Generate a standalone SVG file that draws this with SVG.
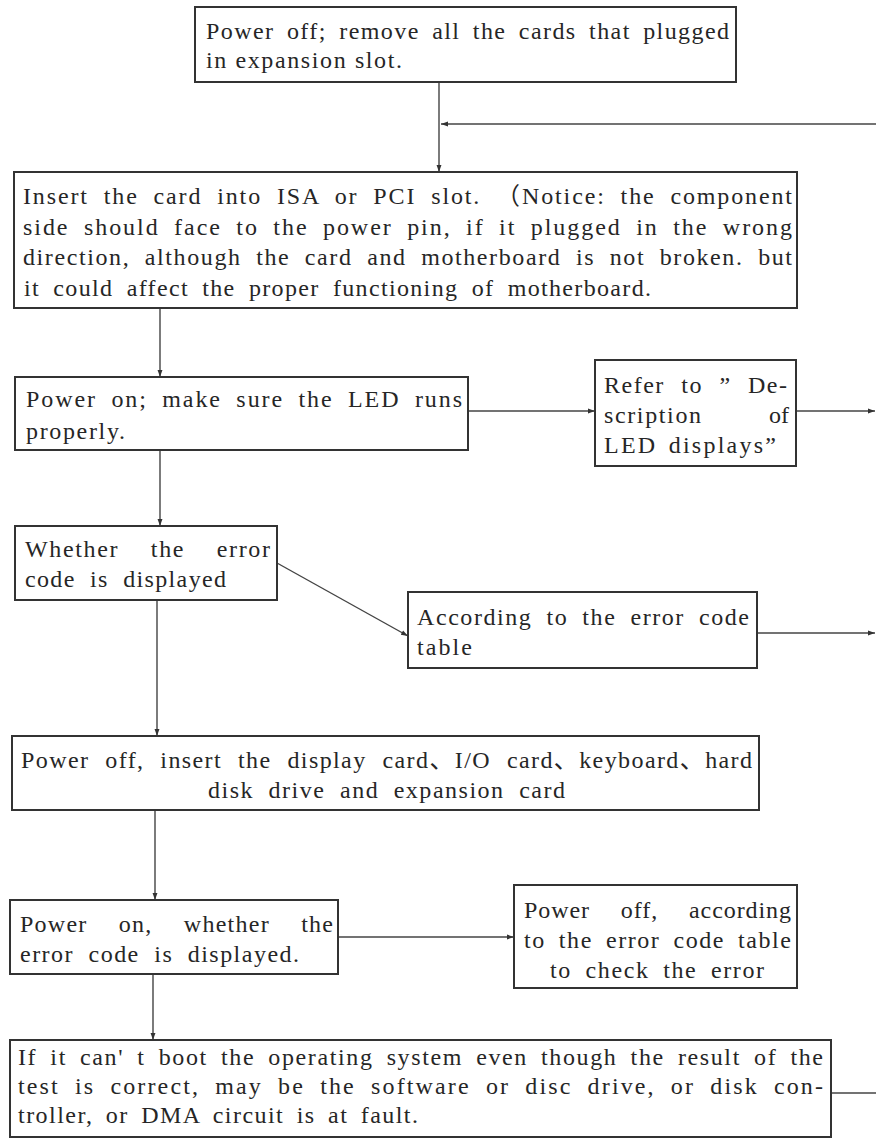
<svg xmlns="http://www.w3.org/2000/svg" width="876" height="1143" viewBox="0 0 876 1143">
<style>
rect.box{fill:none;stroke:#333;stroke-width:2}
text{font-family:"Liberation Serif","Times New Roman","Noto Sans CJK SC",serif;font-size:24px;fill:#262626}
.c line{stroke:#444;stroke-width:1.4;fill:none}
</style>
<defs>
<marker id="ah" viewBox="0 0 10 10" refX="10" refY="5" markerWidth="7" markerHeight="7" markerUnits="userSpaceOnUse" orient="auto">
<path d="M0,1.5 L10,5 L0,8.5 Z" fill="#333"/>
</marker>
</defs>
<rect width="876" height="1143" fill="#fff"/>
<g class="c" id="connectors">
<line x1="439" y1="82" x2="439" y2="172" marker-end="url(#ah)"/>
<line x1="876" y1="124" x2="441" y2="124" marker-end="url(#ah)"/>
<line x1="160" y1="308" x2="160" y2="377" marker-end="url(#ah)"/>
<line x1="468" y1="411" x2="595" y2="411" marker-end="url(#ah)"/>
<line x1="796" y1="411" x2="875" y2="411" marker-end="url(#ah)"/>
<line x1="160" y1="450" x2="160" y2="526" marker-end="url(#ah)"/>
<line x1="277" y1="563" x2="408" y2="636" marker-end="url(#ah)"/>
<line x1="757" y1="633" x2="875" y2="633" marker-end="url(#ah)"/>
<line x1="157" y1="600" x2="157" y2="736" marker-end="url(#ah)"/>
<line x1="155" y1="810" x2="155" y2="900" marker-end="url(#ah)"/>
<line x1="338" y1="937" x2="514" y2="937" marker-end="url(#ah)"/>
<line x1="153" y1="974" x2="153" y2="1040" marker-end="url(#ah)"/>
<line x1="831" y1="1093" x2="876" y2="1093"/>
</g>
<g id="n1">
<rect class="box" x="195" y="7" width="541" height="75"/>
<text x="206" y="39" style="word-spacing:5px" textLength="523" lengthAdjust="spacing">Power off; remove all the cards that plugged</text>
<text x="206" y="68" textLength="196" lengthAdjust="spacing">in expansion slot.</text>
</g>
<g id="n2">
<rect class="box" x="14" y="172" width="783" height="136"/>
<text x="23" y="204" style="word-spacing:7px" textLength="769" lengthAdjust="spacing">Insert the card into ISA or PCI slot. （Notice: the component</text>
<text x="23" y="235" style="word-spacing:6.5px" textLength="769" lengthAdjust="spacing">side should face to the power pin, if it plugged in the wrong</text>
<text x="23" y="265" style="word-spacing:7px" textLength="769" lengthAdjust="spacing">direction, although the card and motherboard is not broken. but</text>
<text x="24" y="296" style="word-spacing:6px" textLength="627" lengthAdjust="spacing">it could affect the proper functioning of motherboard.</text>
</g>
<g id="n3">
<rect class="box" x="15" y="377" width="453" height="73"/>
<text x="26" y="407" style="word-spacing:6.5px" textLength="436" lengthAdjust="spacing">Power on; make sure the LED runs</text>
<text x="26" y="439" textLength="99" lengthAdjust="spacing">properly.</text>
</g>
<g id="n4">
<rect class="box" x="595" y="360" width="201" height="106"/>
<text x="604" y="393" style="word-spacing:9px" textLength="183" lengthAdjust="spacing">Refer to ” De-</text>
<text x="604" y="423" textLength="97" lengthAdjust="spacing">scription</text>
<text x="789" y="423" text-anchor="end">of</text>
<text x="604" y="453" style="word-spacing:3px" textLength="172" lengthAdjust="spacing">LED displays”</text>
</g>
<g id="n5">
<rect class="box" x="15" y="526" width="262" height="74"/>
<text x="25" y="557" style="word-spacing:24px" textLength="245" lengthAdjust="spacing">Whether the error</text>
<text x="25" y="587" style="word-spacing:7px" textLength="201" lengthAdjust="spacing">code is displayed</text>
</g>
<g id="n6">
<rect class="box" x="408" y="592" width="349" height="76"/>
<text x="417" y="625" style="word-spacing:6.5px" textLength="332" lengthAdjust="spacing">According to the error code</text>
<text x="417" y="655" textLength="55" lengthAdjust="spacing">table</text>
</g>
<g id="n7">
<rect class="box" x="12" y="736" width="747" height="74"/>
<text x="21" y="768" style="word-spacing:8.5px" textLength="731" lengthAdjust="spacing">Power off, insert the display card、I/O card、keyboard、hard</text>
<text x="208" y="798" style="word-spacing:7px" textLength="357" lengthAdjust="spacing">disk drive and expansion card</text>
</g>
<g id="n8">
<rect class="box" x="10" y="900" width="328" height="74"/>
<text x="20" y="932" style="word-spacing:24px" textLength="313" lengthAdjust="spacing">Power on, whether the</text>
<text x="20" y="962" style="word-spacing:7px" textLength="279" lengthAdjust="spacing">error code is displayed.</text>
</g>
<g id="n9">
<rect class="box" x="514" y="885" width="283" height="103"/>
<text x="524" y="918" style="word-spacing:24px" textLength="267" lengthAdjust="spacing">Power off, according</text>
<text x="524" y="948" style="word-spacing:5.5px" textLength="267" lengthAdjust="spacing">to the error code table</text>
<text x="550" y="978" style="word-spacing:6px" textLength="214" lengthAdjust="spacing">to check the error</text>
</g>
<g id="n10">
<rect class="box" x="10" y="1040" width="821" height="97"/>
<text x="18" y="1065" style="word-spacing:5.5px" textLength="805" lengthAdjust="spacing">If it can'  t boot the operating system even though the result of the</text>
<text x="18" y="1094" style="word-spacing:7px" textLength="805" lengthAdjust="spacing">test is correct, may be the software or disc drive, or disk con-</text>
<text x="18" y="1123" style="word-spacing:5px" textLength="400" lengthAdjust="spacing">troller, or DMA circuit is at fault.</text>
</g>
</svg>
